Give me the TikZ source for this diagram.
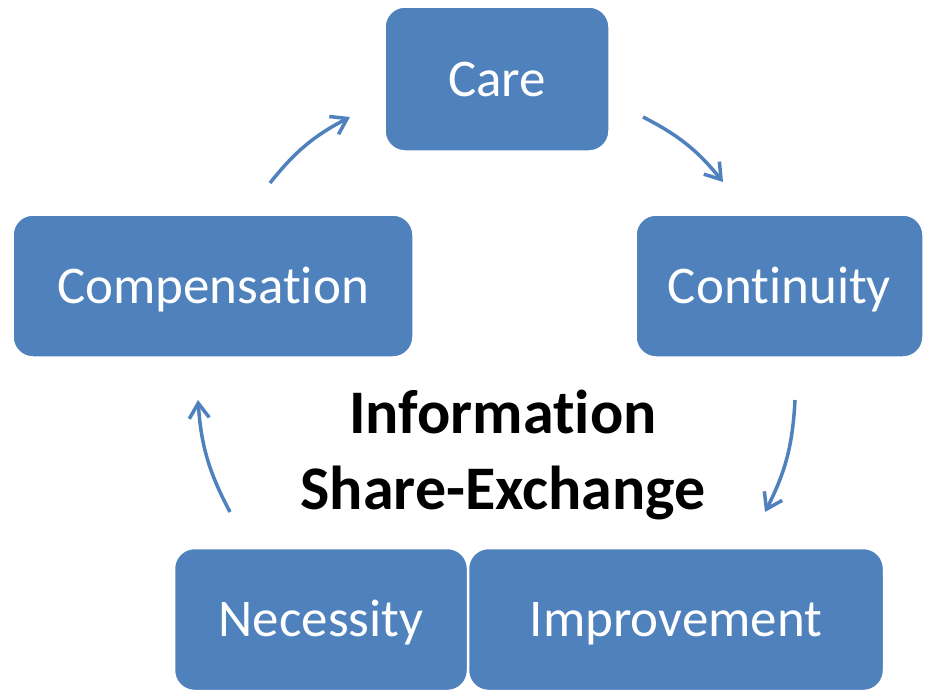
\documentclass[tikz,border=0pt]{standalone}
\usepackage{fontspec}
\setmainfont{Carlito}[Ligatures=CommonOff]
\usetikzlibrary{arrows.meta}

\definecolor{boxblue}{HTML}{4F81BD}

\tikzset{
    cyclebox/.style={rectangle, rounded corners=20pt, fill=boxblue, draw=white,
        line width=1.5pt, inner sep=0pt, text=white, text height=34pt, text depth=0pt,
        font=\fontsize{53}{60}\selectfont},
    cyclearrow/.style={draw=boxblue, line width=3.5pt,
        -{Straight Barb[length=15pt,width=20pt]}, bend left=12}
}

\begin{document}
\begin{tikzpicture}[x=1pt,y=-1pt]
    \useasboundingbox (0,0) rectangle (925,691);
    % the five steps of the cycle
    \node[cyclebox, minimum width=224pt, minimum height=144pt] (care) at (497,79) {Care};
    \node[cyclebox, minimum width=287pt, minimum height=142pt] (continuity) at (779.5,286) {Continuity};
    \node[cyclebox, minimum width=400pt, minimum height=142pt] (compensation) at (213,286) {Compensation};
    \node[cyclebox, minimum width=293pt, minimum height=142pt] (necessity) at (321,619.5) {Necessity};
    \node[cyclebox, minimum width=415pt, minimum height=142pt] (improvement) at (676,619.5) {Improvement};
    % title in the middle
    \node[align=center, inner sep=0pt, font=\fontsize{62}{76}\selectfont\bfseries] (hub) at (503,455)
        {Information\\Share-Exchange};
    % arrow ends
    \coordinate (a1) at (270,183);  \coordinate (b1) at (350,117);
    \coordinate (a2) at (643,117);  \coordinate (b2) at (723,182);
    \coordinate (a3) at (795,400);  \coordinate (b3) at (765,512);
    \coordinate (a4) at (230,512);  \coordinate (b4) at (198,400);
    \draw[cyclearrow] (a1) to (b1);
    \draw[cyclearrow] (a2) to (b2);
    \draw[cyclearrow] (a3) to (b3);
    \draw[cyclearrow] (a4) to (b4);
\end{tikzpicture}
\end{document}
